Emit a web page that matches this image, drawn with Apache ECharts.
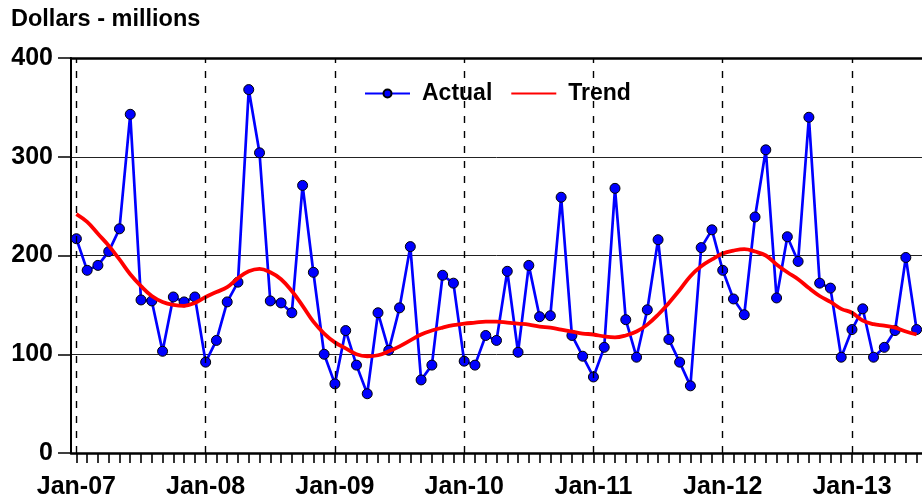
<!DOCTYPE html>
<html>
<head>
<meta charset="utf-8">
<script src="https://cdn.jsdelivr.net/npm/echarts@6/dist/echarts.min.js"></script>
<style>
html,body{margin:0;padding:0;background:#fff;}
#chart{width:922px;height:501px;}
</style>
</head>
<body>
<div id="chart"></div>
<script>
var categories = [
 'Jan-07','Feb-07','Mar-07','Apr-07','May-07','Jun-07','Jul-07','Aug-07','Sep-07','Oct-07','Nov-07','Dec-07',
 'Jan-08','Feb-08','Mar-08','Apr-08','May-08','Jun-08','Jul-08','Aug-08','Sep-08','Oct-08','Nov-08','Dec-08',
 'Jan-09','Feb-09','Mar-09','Apr-09','May-09','Jun-09','Jul-09','Aug-09','Sep-09','Oct-09','Nov-09','Dec-09',
 'Jan-10','Feb-10','Mar-10','Apr-10','May-10','Jun-10','Jul-10','Aug-10','Sep-10','Oct-10','Nov-10','Dec-10',
 'Jan-11','Feb-11','Mar-11','Apr-11','May-11','Jun-11','Jul-11','Aug-11','Sep-11','Oct-11','Nov-11','Dec-11',
 'Jan-12','Feb-12','Mar-12','Apr-12','May-12','Jun-12','Jul-12','Aug-12','Sep-12','Oct-12','Nov-12','Dec-12',
 'Jan-13','Feb-13','Mar-13','Apr-13','May-13','Jun-13','Jul-13'
];
var actual = [
 217, 185, 190, 204, 227, 343, 155, 154, 103, 158, 153, 158,
 92, 114, 153, 173, 368, 304, 154, 152, 142, 271, 183, 100,
 70, 124, 89, 60, 142, 104, 147, 209, 74, 89, 180, 172,
 93, 89, 119, 114, 184, 102, 190, 138, 139, 259, 119, 98,
 77, 107, 268, 135, 97, 145, 216, 115, 92, 68, 208, 226,
 185, 156, 140, 239, 307, 157, 219, 194, 340, 172, 167, 97,
 125, 146, 97, 107, 124, 198, 125
];
var trend = [
 242, 234, 222, 210, 196, 181, 169, 159, 153, 150, 149, 152,
 158, 163, 168, 177, 184, 186.5, 183, 176, 164, 149, 133, 121,
 112, 106, 100, 98, 99, 103, 108, 114, 120, 124, 127, 129.5,
 131, 132, 133, 133, 132, 131, 130, 128, 127, 125, 123, 121,
 120, 118, 117, 119, 123, 130, 140, 152, 165, 179, 189, 196,
 202, 205, 206.5, 204, 200, 191, 183, 176, 167, 159, 153, 146,
 142, 134, 130.5, 129, 127, 123, 120
];
var yTicks = [0, 100, 200, 300, 400];
var janLines = ['Jan-07','Jan-08','Jan-09','Jan-10','Jan-11','Jan-12','Jan-13'];

var FONT = "'Liberation Sans', Arial, sans-serif";
var chart = echarts.init(document.getElementById('chart'));
chart.setOption({
  animation: false,
  backgroundColor: '#fff',
  title: {
    text: 'Dollars - millions',
    left: 11, top: 8, padding: 0,
    textStyle: {fontFamily: FONT, fontSize: 23.5, fontWeight: 'bold', color: '#000'}
  },
  legend: {
    data: [
      {name: 'Actual'},
      {name: 'Trend', itemStyle: {color: 'rgba(0,0,0,0)', borderColor: 'rgba(0,0,0,0)', borderWidth: 0}}
    ],
    left: 364, top: 82, padding: 0,
    itemWidth: 45, itemHeight: 10, itemGap: 18,
    textStyle: {fontFamily: FONT, fontSize: 23, fontWeight: 'bold', color: '#000', padding: [0,0,0,7]}
  },
  grid: {left: 71, right: -2, top: 58, bottom: 48, containLabel: false},
  xAxis: [{
    type: 'category',
    data: categories,
    boundaryGap: true,
    axisLine: {show: true, lineStyle: {color: '#000', width: 2.5}},
    axisTick: {show: true, interval: 0, alignWithLabel: true, length: 10, lineStyle: {color: '#000', width: 1.6}},
    axisLabel: {
      interval: function (i) { return i % 12 === 0; },
      fontFamily: FONT, fontSize: 25, fontWeight: 'bold', color: '#000', margin: 22
    },
    splitLine: {show: false}
  }, {
    type: 'category',
    data: categories,
    position: 'top',
    boundaryGap: true,
    axisLine: {show: true, onZero: false, lineStyle: {color: '#000', width: 2.5}},
    axisTick: {show: false},
    axisLabel: {show: false},
    splitLine: {show: false}
  }],
  yAxis: {
    type: 'value',
    min: yTicks[0], max: yTicks[yTicks.length - 1], interval: 100,
    axisLine: {show: true, lineStyle: {color: '#000', width: 2}},
    axisTick: {show: true, length: 13, lineStyle: {color: '#000', width: 1.5}},
    axisLabel: {fontFamily: FONT, fontSize: 25, fontWeight: 'bold', color: '#000', margin: 18},
    splitLine: {show: true, lineStyle: {color: '#222', width: 1}}
  },
  series: [{
    name: 'janLines',
    type: 'line',
    data: [],
    z: 1,
    silent: true,
    markLine: {
      silent: true,
      symbol: ['none', 'none'],
      label: {show: false},
      lineStyle: {color: '#000', type: [7, 8], width: 1.4},
      data: janLines.map(function (c) { return {xAxis: c}; })
    }
  }, {
    name: 'Actual',
    type: 'line',
    data: actual,
    z: 3,
    color: '#0000FF',
    lineStyle: {color: '#0000FF', width: 2.7},
    symbol: 'circle',
    symbolSize: 10,
    showSymbol: true,
    showAllSymbol: true,
    itemStyle: {color: '#0000FF', borderColor: '#000', borderWidth: 1}
  }, {
    name: 'Trend',
    type: 'line',
    data: trend,
    z: 4,
    smooth: 0.4,
    color: '#FF0000',
    showSymbol: false,
    symbol: 'none',
    lineStyle: {color: '#FF0000', width: 3.8}
  }]
});
</script>
</body>
</html>
